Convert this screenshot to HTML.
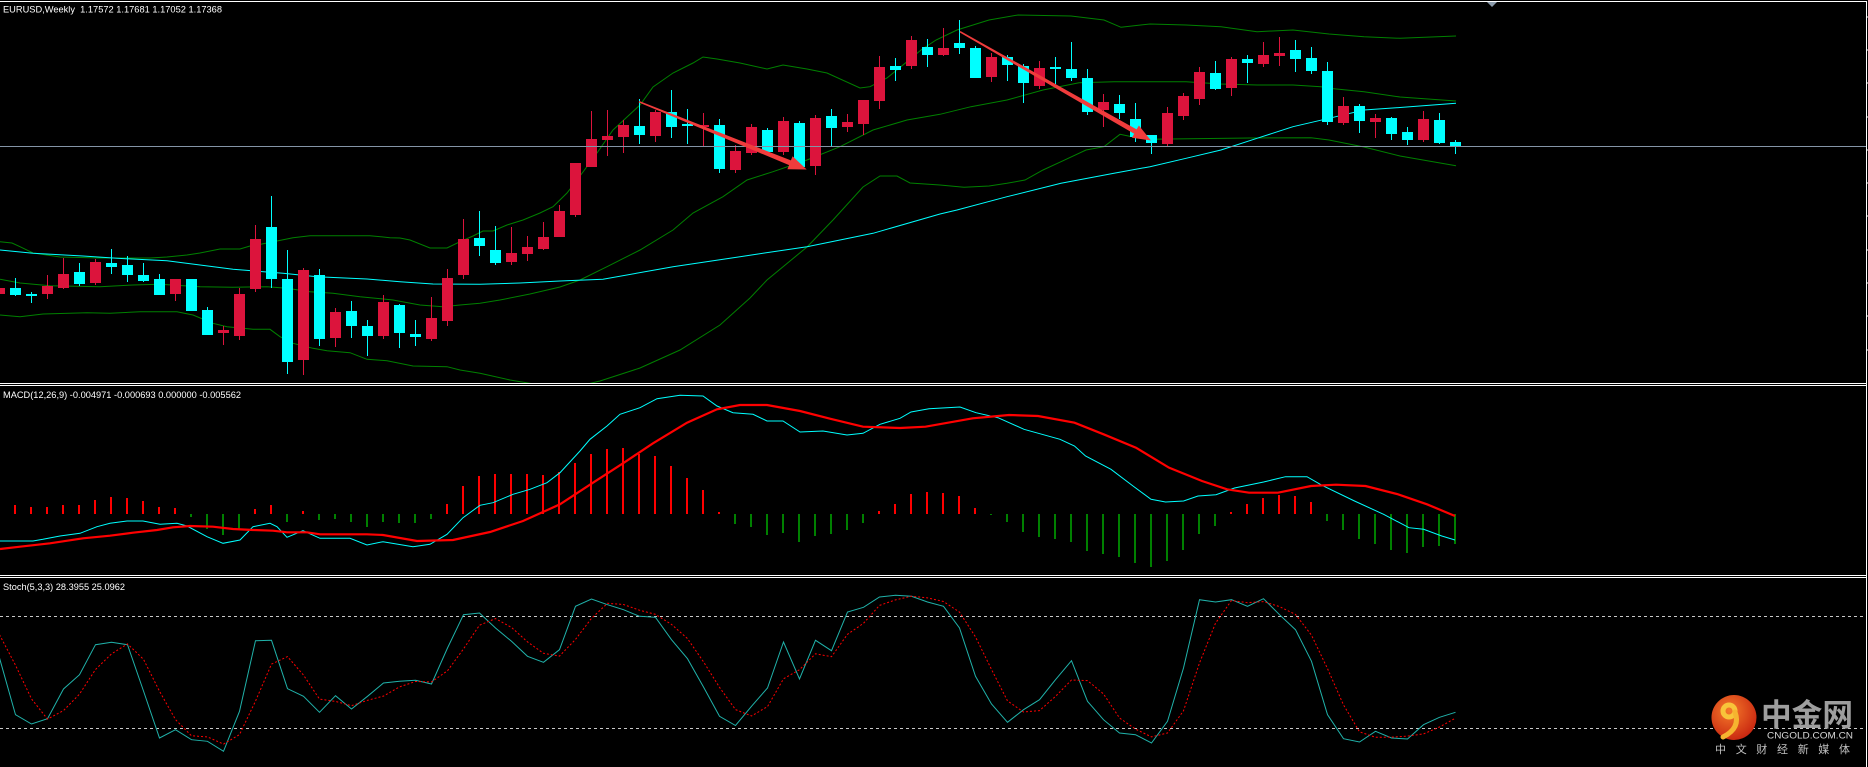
<!DOCTYPE html>
<html><head><meta charset="utf-8"><style>html,body{margin:0;padding:0;background:#000;overflow:hidden}svg{display:block}</style></head>
<body>
<svg width="1868" height="767" viewBox="0 0 1868 767" xmlns="http://www.w3.org/2000/svg">
<defs>
<clipPath id="cm"><rect x="0" y="2" width="1866" height="381"/></clipPath>
<clipPath id="cd"><rect x="0" y="386" width="1866" height="189"/></clipPath>
<clipPath id="cs"><rect x="0" y="578" width="1866" height="189"/></clipPath>
<radialGradient id="lg" cx="0.4" cy="0.35" r="0.75"><stop offset="0" stop-color="#f57a2a"/><stop offset="1" stop-color="#c41e0e"/></radialGradient>
</defs>
<rect width="1868" height="767" fill="#000"/>
<rect x="0" y="1" width="1867" height="1" fill="#fff"/>
<rect x="1866" y="1" width="1" height="766" fill="#fff"/>
<rect x="0" y="383" width="1867" height="1" fill="#fff"/>
<rect x="0" y="385" width="1867" height="1" fill="#fff"/>
<rect x="0" y="575" width="1867" height="1" fill="#fff"/>
<rect x="0" y="577" width="1867" height="1" fill="#fff"/>
<path d="M1866 17h2M1866 50h2M1866 83h2M1866 117h2M1866 150h2M1866 183h2M1866 216h2M1866 250h2M1866 283h2M1866 316h2M1866 350h2" stroke="#fff" stroke-width="1"/>
<polygon points="1487,2 1497,2 1492,7" fill="#8a9aaa"/>
<g clip-path="url(#cm)">
<g fill="none" stroke="#008000" stroke-width="1">
<polyline points="0,241.7 12,243 20,246.7 33,253 40,254 60,257 100,258 150,258 167,257 187,255 200,253 220,249 240,249 250,246 262,244 277,241 293,237.7 310,235.7 370,235.7 390,237.7 400,238 410,240 430,248 447,248 460,241.7 473,236 483,231 493,231 507,225 523,220 540,213 553,206.7 567,193 580,176 597,153 613,130 627,117 640,105 653,87 673,73 693,63 703,57 717,59 740,63 767,69 783,65 807,69 827,73 860,88 870,86.7 887,78 907,61.7 921,50 936,40 957,30 989,20 1018,15 1071,16 1104,20 1121,27.3 1150,24 1186,25 1221,26.7 1257,31.7 1293,30 1329,34 1364,36.7 1400,38.3 1456,36"/>
<polyline points="0,279.3 20,283 50,285.7 100,286.7 133,285 160,284.3 200,286.7 233,287.3 267,286.7 287,288.3 310,291.7 333,293.3 360,296.7 393,300 420,305 443,306.7 460,305 480,303.3 500,300 530,294 560,287 580,280 607,266.7 640,250 673,230 693,213 723,196.7 747,180 773,171.7 807,160 840,146.7 873,130 907,120 940,114.3 971,106.7 1007,100 1043,90 1079,82.7 1114,81.7 1186,81.7 1221,84 1257,85 1293,85 1321,86.7 1329,88.3 1364,91.7 1400,97 1456,101"/>
<polyline points="0,315 20,316.7 43,314 87,312.7 110,313.3 140,311.7 177,311.7 193,315 213,323.3 227,326.7 253,329.3 270,329.3 280,336.7 293,343.3 313,348.3 327,350.7 350,352.7 367,359.3 387,360.7 413,366 447,366.7 460,370 480,373.3 510,380 540,385 575,387 600,381 640,368 680,350 720,325 750,298 767,280 807,247 833,220 863,187 880,176 897,176 910,183 940,185 964,187.3 989,186 1007,183.3 1025,180 1043,170 1061,161.7 1086,150 1104,146.7 1120,134.3 1132,136.7 1150,139.3 1250,138 1311,137.7 1329,140 1364,147 1400,156 1456,165.7"/>
</g>
<polyline fill="none" stroke="#00ffff" stroke-width="1" points="0,250 33,253.3 83,256 117,258.3 167,260.7 200,265 233,269.3 283,273.3 317,276.7 367,279 400,281.7 433,284 480,284.3 520,283 560,281 603,279.3 673,266.7 740,256.7 807,246.7 873,233.3 940,214 957,210 1007,196.7 1061,183.3 1114,173.3 1150,166.7 1186,158.3 1221,150 1257,138.3 1293,126.7 1329,118.3 1364,110 1400,107.5 1456,103.3"/>
<path fill="#00ffff" d="M15 278h1v18h-1zM10 288h11v7h-11zM31 292h1v11h-1zM26 294h11v2h-11zM79 263h1v23h-1zM74 272h11v12h-11zM111 249h1v25h-1zM106 263h11v4h-11zM127 256h1v26h-1zM122 265h11v10h-11zM143 263h1v19h-1zM138 275h11v6h-11zM159 274h1v21h-1zM154 279h11v16h-11zM191 279h1v32h-1zM186 279h11v32h-11zM207 307h1v28h-1zM202 310h11v25h-11zM271 196h1v92h-1zM266 227h11v52h-11zM287 250h1v124h-1zM282 279h11v83h-11zM319 269h1v77h-1zM314 275h11v64h-11zM351 301h1v37h-1zM346 311h11v15h-11zM367 320h1v36h-1zM362 326h11v10h-11zM399 304h1v44h-1zM394 305h11v28h-11zM415 320h1v26h-1zM410 334h11v3h-11zM479 211h1v45h-1zM474 238h11v8h-11zM495 226h1v39h-1zM490 250h11v13h-11zM639 99h1v45h-1zM634 126h11v9h-11zM671 90h1v48h-1zM666 112h11v15h-11zM687 109h1v35h-1zM682 124h11v2h-11zM719 119h1v54h-1zM714 125h11v44h-11zM767 128h1v26h-1zM762 130h11v22h-11zM799 121h1v47h-1zM794 123h11v44h-11zM831 109h1v37h-1zM826 116h11v12h-11zM895 58h1v23h-1zM890 66h11v4h-11zM927 39h1v28h-1zM922 47h11v8h-11zM959 20h1v34h-1zM954 43h11v5h-11zM975 46h1v32h-1zM970 48h11v30h-11zM1007 55h1v26h-1zM1002 57h11v8h-11zM1023 64h1v39h-1zM1018 66h11v17h-11zM1055 57h1v27h-1zM1050 67h11v2h-11zM1071 42h1v39h-1zM1066 69h11v9h-11zM1087 69h1v46h-1zM1082 78h11v34h-11zM1119 95h1v24h-1zM1114 104h11v9h-11zM1135 103h1v39h-1zM1130 119h11v18h-11zM1151 135h1v19h-1zM1146 135h11v8h-11zM1215 61h1v29h-1zM1210 73h11v16h-11zM1247 55h1v28h-1zM1242 59h11v4h-11zM1295 40h1v32h-1zM1290 50h11v9h-11zM1311 47h1v27h-1zM1306 58h11v13h-11zM1327 62h1v63h-1zM1322 71h11v51h-11zM1359 104h1v29h-1zM1354 106h11v15h-11zM1391 117h1v23h-1zM1386 118h11v16h-11zM1407 127h1v18h-1zM1402 132h11v8h-11zM1439 113h1v31h-1zM1434 120h11v23h-11zM1455 140h1v14h-1zM1450 142h11v5h-11z"/>
<path fill="#dc143c" d="M-1 286h1v10h-1zM-6 288h11v6h-11zM47 275h1v24h-1zM42 286h11v8h-11zM63 258h1v31h-1zM58 274h11v14h-11zM95 259h1v26h-1zM90 262h11v21h-11zM175 279h1v22h-1zM170 279h11v15h-11zM223 326h1v19h-1zM218 330h11v3h-11zM239 288h1v52h-1zM234 294h11v42h-11zM255 225h1v67h-1zM250 239h11v50h-11zM303 268h1v107h-1zM298 270h11v90h-11zM335 308h1v39h-1zM330 312h11v26h-11zM383 295h1v44h-1zM378 302h11v34h-11zM431 297h1v44h-1zM426 318h11v21h-11zM447 269h1v57h-1zM442 278h11v43h-11zM463 219h1v60h-1zM458 239h11v36h-11zM511 227h1v38h-1zM506 253h11v9h-11zM527 236h1v25h-1zM522 247h11v7h-11zM543 222h1v28h-1zM538 237h11v12h-11zM559 205h1v32h-1zM554 211h11v26h-11zM575 163h1v54h-1zM570 163h11v52h-11zM591 111h1v56h-1zM586 139h11v28h-11zM607 110h1v46h-1zM602 136h11v4h-11zM623 120h1v33h-1zM618 125h11v12h-11zM655 110h1v32h-1zM650 112h11v24h-11zM703 113h1v34h-1zM698 125h11v2h-11zM735 145h1v28h-1zM730 151h11v19h-11zM751 124h1v31h-1zM746 127h11v26h-11zM783 117h1v38h-1zM778 121h11v31h-11zM815 115h1v60h-1zM810 118h11v48h-11zM847 114h1v18h-1zM842 122h11v5h-11zM863 100h1v35h-1zM858 100h11v24h-11zM879 56h1v53h-1zM874 67h11v34h-11zM911 36h1v33h-1zM906 40h11v26h-11zM943 28h1v28h-1zM938 48h11v7h-11zM991 53h1v29h-1zM986 57h11v20h-11zM1039 61h1v28h-1zM1034 68h11v18h-11zM1103 94h1v33h-1zM1098 102h11v8h-11zM1167 107h1v40h-1zM1162 113h11v31h-11zM1183 93h1v27h-1zM1178 96h11v20h-11zM1199 67h1v38h-1zM1194 72h11v27h-11zM1231 57h1v39h-1zM1226 59h11v29h-11zM1263 42h1v25h-1zM1258 55h11v9h-11zM1279 37h1v29h-1zM1274 53h11v3h-11zM1343 97h1v28h-1zM1338 106h11v17h-11zM1375 114h1v24h-1zM1370 118h11v4h-11zM1423 111h1v31h-1zM1418 119h11v21h-11z"/>
<rect x="0" y="146" width="1866" height="1" fill="#8494a6"/>
<polygon fill="#f03c3c" points="638.7,102.4 639.3,101 790.9,160.4 792.6,156.3 806.7,169.5 787.4,169.2 789.1,165.1"/>
<polygon fill="#f03c3c" points="959.6,32.4 960.4,31 1136.6,129.4 1138.9,125.5 1151,140.5 1131.9,137.7 1134.2,133.8"/>
</g>
<text x="3" y="12.7" font-family="Liberation Sans, sans-serif" font-size="9.5" fill="#fff" textLength="219" lengthAdjust="spacingAndGlyphs">EURUSD,Weekly&#160;&#160;1.17572 1.17681 1.17052 1.17368</text>
<g clip-path="url(#cd)">
<path fill="#ff0000" d="M14 505h2V514h-2zM30 507h2V514h-2zM46 507h2V514h-2zM62 505h2V514h-2zM78 505h2V514h-2zM94 500h2V514h-2zM110 497h2V514h-2zM126 498h2V514h-2zM142 501h2V514h-2zM158 507h2V514h-2zM174 508h2V514h-2zM254 509h2V514h-2zM270 505h2V514h-2zM302 511h2V514h-2zM446 504h2V514h-2zM462 486h2V514h-2zM478 476h2V514h-2zM494 474h2V514h-2zM510 474h2V514h-2zM526 474h2V514h-2zM542 475h2V514h-2zM558 472h2V514h-2zM574 463h2V514h-2zM590 454h2V514h-2zM606 449h2V514h-2zM622 448h2V514h-2zM638 454h2V514h-2zM654 456h2V514h-2zM670 466h2V514h-2zM686 478h2V514h-2zM702 490h2V514h-2zM718 512h2V514h-2zM878 511h2V514h-2zM894 504h2V514h-2zM910 494h2V514h-2zM926 492h2V514h-2zM942 493h2V514h-2zM958 496h2V514h-2zM974 508h2V514h-2zM1230 512h2V514h-2zM1246 504h2V514h-2zM1262 498h2V514h-2zM1278 495h2V514h-2zM1294 496h2V514h-2zM1310 502h2V514h-2z"/>
<path fill="#008000" d="M190 514h2V517h-2zM206 514h2V529h-2zM222 514h2V535h-2zM238 514h2V529h-2zM286 514h2V522h-2zM318 514h2V520h-2zM334 514h2V519h-2zM350 514h2V522h-2zM366 514h2V527h-2zM382 514h2V522h-2zM398 514h2V523h-2zM414 514h2V523h-2zM430 514h2V519h-2zM734 514h2V524h-2zM750 514h2V527h-2zM766 514h2V535h-2zM782 514h2V533h-2zM798 514h2V542h-2zM814 514h2V536h-2zM830 514h2V534h-2zM846 514h2V530h-2zM862 514h2V523h-2zM990 514h2V515h-2zM1006 514h2V522h-2zM1022 514h2V532h-2zM1038 514h2V537h-2zM1054 514h2V539h-2zM1070 514h2V542h-2zM1086 514h2V551h-2zM1102 514h2V554h-2zM1118 514h2V557h-2zM1134 514h2V563h-2zM1150 514h2V567h-2zM1166 514h2V561h-2zM1182 514h2V550h-2zM1198 514h2V534h-2zM1214 514h2V526h-2zM1326 514h2V521h-2zM1342 514h2V530h-2zM1358 514h2V539h-2zM1374 514h2V544h-2zM1390 514h2V550h-2zM1406 514h2V553h-2zM1422 514h2V547h-2zM1438 514h2V546h-2zM1454 514h2V544h-2z"/>
<polyline fill="none" stroke="#00ffff" stroke-width="1" points="0,541 33,541 43,539.3 60,536 80,533.3 97,526.7 110,523.3 127,521 143,521 160,524.3 177,523.3 187,526 207,536.7 223,543.3 240,540 253,526.7 270,523.3 277,526.7 287,537.3 303,530.7 320,538.3 350,538.3 367,545 383,541.7 413,546.7 430,544.3 447,534.3 463,517.7 480,505.3 493,502.7 513,494.3 530,489.3 547,482.7 560,472.7 580,451 590,439.3 607,426 620,414.3 640,407.7 657,398.7 680,395.3 703,396 717,406 733,412.7 753,414.3 767,421 783,421 800,432 823,431 847,435 863,433.3 880,424.3 900,418.3 911,412 929,408.7 960,407 976,412.7 998,417.7 1024,429.3 1060,439.3 1074.5,446 1085.5,456 1111,469.3 1133,486 1151,499.3 1165.5,502 1183.6,501 1198,496 1216,494.7 1234.5,488 1263.6,482 1285.5,476.7 1307,476.7 1322,485.3 1354.5,501 1383.6,514.3 1409,527.7 1423.6,529.3 1441.8,536 1455,540"/>
<polyline fill="none" stroke="#ff0000" stroke-width="2.2" points="0,549 20,546.7 50,543.3 83,538.3 110,535.7 133,532.7 157,530 173,527.3 190,526 213,526.7 233,529 253,530 273,530.7 287,532.3 307,532.3 320,534.3 367,534.3 383,535 417,541 453,540 490,532 523,521 560,504.3 593,482.7 623,463.3 653,443.3 687,422.7 717,409.3 740,405 767,405 800,411 830,418.7 863,426.7 900,428 925.5,426.7 972.7,418.3 1009,415 1038,416 1074.5,422.7 1103.6,434.3 1136,447.7 1169,467.7 1202,481 1227,489.3 1249,492.7 1278,492.7 1311,486 1336,484.7 1365.5,486 1398,494.3 1427,504.3 1455,516"/>
</g>
<text x="3" y="398" font-family="Liberation Sans, sans-serif" font-size="9.5" fill="#fff" textLength="238" lengthAdjust="spacingAndGlyphs">MACD(12,26,9) -0.004971 -0.000693 0.000000 -0.005562</text>
<g clip-path="url(#cs)">
<line x1="0" y1="616.5" x2="1866" y2="616.5" stroke="#c8c8c8" stroke-width="1" stroke-dasharray="3,3"/>
<line x1="0" y1="728.5" x2="1866" y2="728.5" stroke="#c8c8c8" stroke-width="1" stroke-dasharray="3,3"/>
<polyline fill="none" stroke="#20b2aa" stroke-width="1" points="-0.5,658 15.5,714.7 31.5,724 47.5,718.7 63.5,689 79.5,674.7 95.5,644.7 111.5,642.3 127.5,644.7 143.5,691 159.5,738 175.5,729.7 191.5,739.7 207.5,741.3 223.5,751.3 239.5,711.3 255.5,640.7 271.5,640.3 287.5,688.7 303.5,696.3 319.5,712.3 335.5,695.7 351.5,709 367.5,696.3 383.5,683 399.5,681.3 415.5,680.3 431.5,684 447.5,648 463.5,614.7 479.5,613 495.5,628 511.5,641.3 527.5,656.3 543.5,662.3 559.5,649.7 575.5,606.3 591.5,599 607.5,604.7 623.5,609.7 639.5,616.3 655.5,617.3 671.5,639.7 687.5,658.7 703.5,687 719.5,716.3 735.5,725.5 751.5,706.3 767.5,688 783.5,642 799.5,679 815.5,640.3 831.5,650.7 847.5,612 863.5,607.3 879.5,597 895.5,595.3 911.5,596.3 927.5,602 943.5,606.3 959.5,628 975.5,676.3 991.5,704 1007.5,722.3 1023.5,709.7 1039.5,699.7 1055.5,679.7 1071.5,660.7 1087.5,701.3 1103.5,719.7 1119.5,733 1135.5,734.7 1151.5,743 1167.5,721.3 1183.5,668 1199.5,599.7 1215.5,602 1231.5,599.7 1247.5,606.3 1263.5,598.7 1279.5,614.7 1295.5,629.7 1311.5,661.3 1327.5,714.7 1343.5,738.7 1359.5,742 1375.5,731.3 1391.5,738 1407.5,739 1423.5,724.7 1439.5,717.3 1455.5,712.3"/>
<polyline fill="none" stroke="#ff0000" stroke-width="1" stroke-dasharray="2,2" points="-0.5,634.7 15.5,665.2 31.5,698.9 47.5,719.1 63.5,710.6 79.5,694.1 95.5,669.5 111.5,653.9 127.5,643.9 143.5,659.3 159.5,691.2 175.5,719.6 191.5,735.8 207.5,736.9 223.5,744.1 239.5,734.6 255.5,701.1 271.5,664.1 287.5,656.6 303.5,675.1 319.5,699.1 335.5,701.4 351.5,705.7 367.5,700.3 383.5,696.1 399.5,686.9 415.5,681.5 431.5,681.9 447.5,670.8 463.5,648.9 479.5,625.2 495.5,618.6 511.5,627.4 527.5,641.9 543.5,653.3 559.5,656.1 575.5,639.4 591.5,618.3 607.5,603.3 623.5,604.5 639.5,610.2 655.5,614.4 671.5,624.4 687.5,638.6 703.5,661.8 719.5,687.3 735.5,709.6 751.5,716 767.5,706.6 783.5,678.8 799.5,669.7 815.5,653.8 831.5,656.7 847.5,634.3 863.5,623.3 879.5,605.4 895.5,599.9 911.5,596.2 927.5,597.9 943.5,601.5 959.5,612.1 975.5,636.9 991.5,669.4 1007.5,700.9 1023.5,712 1039.5,710.6 1055.5,696.4 1071.5,680 1087.5,680.6 1103.5,693.9 1119.5,718 1135.5,729.1 1151.5,736.9 1167.5,733 1183.5,710.8 1199.5,663 1215.5,623.2 1231.5,600.5 1247.5,602.7 1263.5,601.6 1279.5,606.6 1295.5,614.4 1311.5,635.2 1327.5,668.6 1343.5,704.9 1359.5,731.8 1375.5,737.3 1391.5,737.1 1407.5,736.1 1423.5,733.9 1439.5,727 1455.5,718.1"/>
</g>
<text x="3" y="590" font-family="Liberation Sans, sans-serif" font-size="9.5" fill="#fff" textLength="122" lengthAdjust="spacingAndGlyphs">Stoch(5,3,3) 28.3955 25.0962</text>
<circle cx="1734" cy="717.5" r="22.5" fill="url(#lg)"/>
<circle cx="1729" cy="711" r="6" fill="none" stroke="#f8c43a" stroke-width="5"/>
<path d="M1735 712 Q1741 728 1723 737" fill="none" stroke="#f6b430" stroke-width="5" stroke-linecap="round"/>
<text x="1761" y="726" font-family="Liberation Sans, 'Noto Sans CJK SC', sans-serif" font-weight="bold" font-size="31" fill="#9e9e9e" textLength="92" lengthAdjust="spacingAndGlyphs">中金网</text>
<text x="1767" y="738.5" font-family="Liberation Sans, sans-serif" font-size="9.5" fill="#d8d8d8" textLength="86" lengthAdjust="spacingAndGlyphs">CNGOLD.COM.CN</text>
<text x="1715 1735.7 1756.3 1777 1797.7 1818.3 1839" y="753" font-family="Liberation Sans, 'Noto Sans CJK SC', sans-serif" font-size="11" fill="#c0c0c0">中文财经新媒体</text>
</svg>
</body></html>
